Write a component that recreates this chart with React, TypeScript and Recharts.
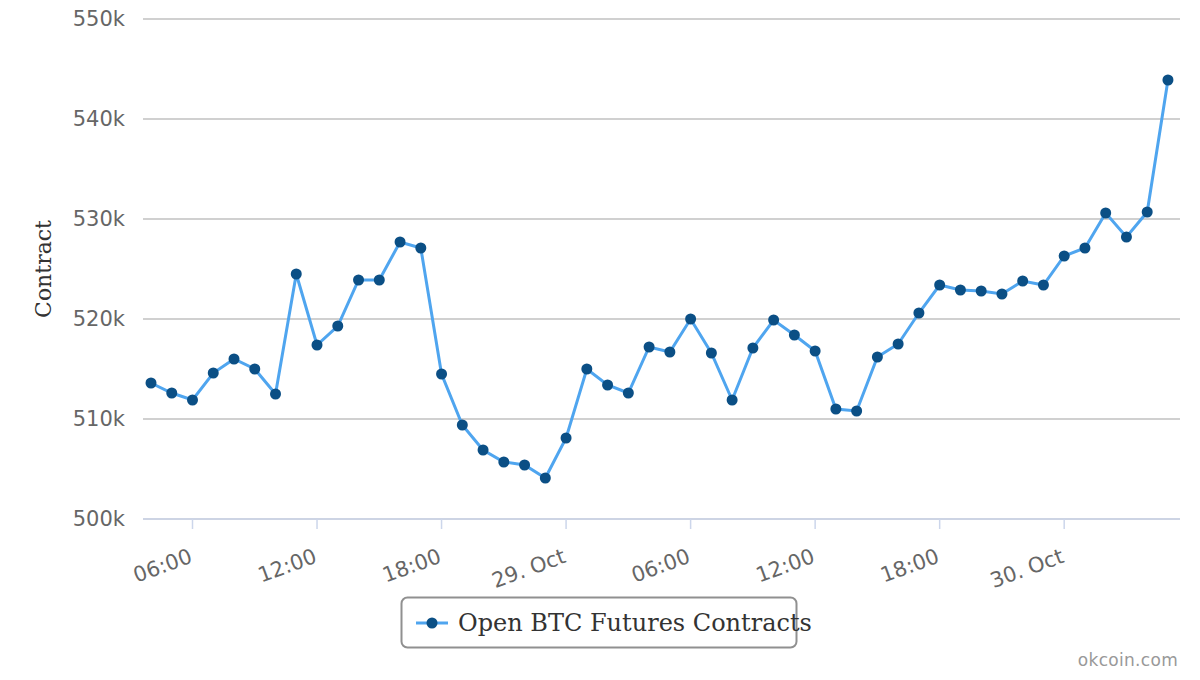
import React from 'react';
import { LineChart, Line, XAxis, YAxis, CartesianGrid, Legend } from 'recharts';

// Hourly points, 28 Oct 04:00 through 30 Oct 05:00
const times = [
  '28 Oct 04:00', '28 Oct 05:00', '28 Oct 06:00', '28 Oct 07:00', '28 Oct 08:00', '28 Oct 09:00', '28 Oct 10:00', '28 Oct 11:00',
  '28 Oct 12:00', '28 Oct 13:00', '28 Oct 14:00', '28 Oct 15:00', '28 Oct 16:00', '28 Oct 17:00', '28 Oct 18:00', '28 Oct 19:00',
  '28 Oct 20:00', '28 Oct 21:00', '28 Oct 22:00', '28 Oct 23:00', '29 Oct 00:00', '29 Oct 01:00', '29 Oct 02:00', '29 Oct 03:00',
  '29 Oct 04:00', '29 Oct 05:00', '29 Oct 06:00', '29 Oct 07:00', '29 Oct 08:00', '29 Oct 09:00', '29 Oct 10:00', '29 Oct 11:00',
  '29 Oct 12:00', '29 Oct 13:00', '29 Oct 14:00', '29 Oct 15:00', '29 Oct 16:00', '29 Oct 17:00', '29 Oct 18:00', '29 Oct 19:00',
  '29 Oct 20:00', '29 Oct 21:00', '29 Oct 22:00', '29 Oct 23:00', '30 Oct 00:00', '30 Oct 01:00', '30 Oct 02:00', '30 Oct 03:00',
  '30 Oct 04:00', '30 Oct 05:00',
];

const contracts = [
  513600, 512600, 511900, 514600, 516000, 515000, 512500, 524500, 517400, 519300,
  523900, 523900, 527700, 527100, 514500, 509400, 506900, 505700, 505400, 504100,
  508100, 515000, 513400, 512600, 517200, 516700, 520000, 516600, 511900, 517100,
  519900, 518400, 516800, 511000, 510800, 516200, 517500, 520600, 523400, 522900,
  522800, 522500, 523800, 523400, 526300, 527100, 530600, 528200, 530700, 543900,
];

// x tick positions (hour index) and their labels
const xTickPositions = [2, 8, 14, 20, 26, 32, 38, 44];
const xTickLabels = ['06:00', '12:00', '18:00', '29. Oct', '06:00', '12:00', '18:00', '30. Oct'];

const yTicks = [500000, 510000, 520000, 530000, 540000, 550000];

const seriesName = 'Open BTC Futures Contracts';

const data = contracts.map((v, i) => ({ t: i, time: times[i], value: v }));

const SANS = '"DejaVu Sans", Verdana, sans-serif';
const SERIF = '"DejaVu Serif", serif';

const XTick = (props: any) => {
  const { x, y, payload } = props;
  const idx = xTickPositions.indexOf(payload.value);
  const label = idx >= 0 ? xTickLabels[idx] : '';
  const ax = x + 1;
  const ay = y + 33;
  return (
    <text
      x={ax}
      y={ay}
      textAnchor="end"
      fill="#666666"
      fontSize={21}
      fontFamily={SANS}
      transform={`rotate(-20, ${ax}, ${ay})`}
    >
      {label}
    </text>
  );
};

const Dot = (props: any) => {
  const { cx, cy } = props;
  if (cx == null || cy == null) return null;
  return <circle cx={cx} cy={cy} r={5.5} fill="#0b4f85" />;
};

const YTitle = (props: any) => {
  const vb = props.viewBox || {};
  const cx = 51;
  const cy = vb.y + vb.height / 2;
  return (
    <text
      x={cx}
      y={cy}
      textAnchor="middle"
      fill="#333333"
      fontSize={22}
      fontFamily={SERIF}
      transform={`rotate(-90, ${cx}, ${cy})`}
    >
      Contract
    </text>
  );
};

const LegendContent = () => (
  <svg width={1200} height={680} style={{ overflow: 'visible', display: 'block' }}>
    <rect x={401.5} y={597.5} width={395} height={50} rx={6} ry={6} fill="none" stroke="#909090" strokeWidth={2} />
    <line x1={416} y1={623} x2={448} y2={623} stroke="#4fa5ef" strokeWidth={3} />
    <circle cx={432} cy={623} r={5.5} fill="#0b4f85" />
    <text x={458} y={631} fill="#333333" fontSize={24} fontFamily={SERIF}>
      {seriesName}
    </text>
  </svg>
);

export default function App() {
  return (
    <div style={{ position: 'absolute', left: 0, top: 0, width: 1200, height: 680, background: '#ffffff' }}>
      <LineChart
        width={1200}
        height={680}
        data={data}
        margin={{ top: 19, right: 20, bottom: 101, left: 0 }}
      >
        <CartesianGrid horizontal vertical={false} stroke="#c0c0c0" strokeWidth={1.5} />
        <XAxis
          dataKey="t"
          type="number"
          domain={[-0.385, 49.58]}
          ticks={xTickPositions}
          allowDataOverflow
          height={60}
          axisLine={{ stroke: '#ccd6eb', strokeWidth: 1.5 }}
          tickLine={{ stroke: '#ccd6eb', strokeWidth: 1.5 }}
          tickSize={10}
          tickMargin={0}
          tick={<XTick />}
          interval={0}
        />
        <YAxis
          type="number"
          domain={[500000, 550000]}
          ticks={yTicks}
          width={143}
          axisLine={false}
          tickLine={false}
          tickSize={8}
          tickMargin={10}
          tickFormatter={(v: number) => `${Math.round(v / 1000)}k`}
          tick={{ fill: '#666666', fontSize: 21, fontFamily: SANS }}
          label={<YTitle />}
        />
        <Legend
          layout="horizontal"
          verticalAlign="middle"
          align="center"
          content={<LegendContent />}
          wrapperStyle={{ left: 0, top: 0, width: 1200, height: 680, pointerEvents: 'none' }}
        />
        <Line
          type="linear"
          dataKey="value"
          name={seriesName}
          stroke="#4fa5ef"
          strokeWidth={3}
          dot={<Dot />}
          activeDot={false}
          isAnimationActive={false}
        />
      </LineChart>
      <div
        style={{
          position: 'absolute',
          right: 22,
          top: 650,
          fontFamily: SANS,
          fontSize: 17,
          color: '#999999',
          letterSpacing: 0.3,
        }}
      >
        okcoin.com
      </div>
    </div>
  );
}
